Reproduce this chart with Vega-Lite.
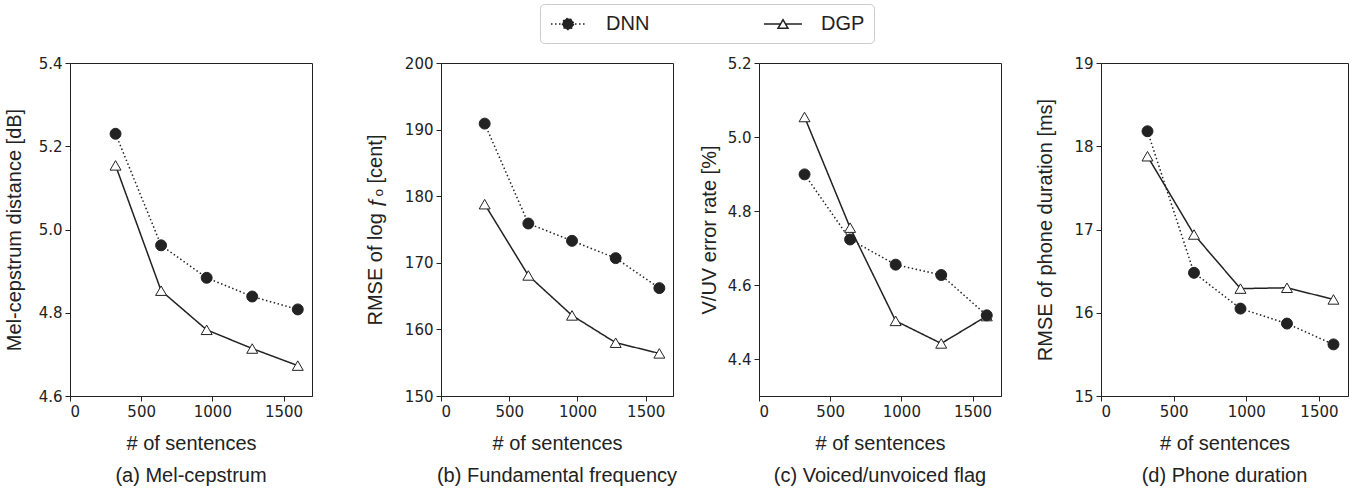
{
  "$schema": "https://vega.github.io/schema/vega-lite/v6.json",
  "padding": {"left": 3, "top": 3, "right": 0, "bottom": 0},
  "background": "#ffffff",
  "data": {"values": [
    {"panel": "a", "series": "DGP", "n": 320, "v": 5.154},
    {"panel": "a", "series": "DGP", "n": 640, "v": 4.853},
    {"panel": "a", "series": "DGP", "n": 960, "v": 4.759},
    {"panel": "a", "series": "DGP", "n": 1280, "v": 4.714},
    {"panel": "a", "series": "DGP", "n": 1600, "v": 4.673},
    {"panel": "a", "series": "DNN", "n": 320, "v": 5.230},
    {"panel": "a", "series": "DNN", "n": 640, "v": 4.962},
    {"panel": "a", "series": "DNN", "n": 960, "v": 4.884},
    {"panel": "a", "series": "DNN", "n": 1280, "v": 4.839},
    {"panel": "a", "series": "DNN", "n": 1600, "v": 4.808},
    {"panel": "b", "series": "DGP", "n": 320, "v": 178.8},
    {"panel": "b", "series": "DGP", "n": 640, "v": 168.1},
    {"panel": "b", "series": "DGP", "n": 960, "v": 162.1},
    {"panel": "b", "series": "DGP", "n": 1280, "v": 158.0},
    {"panel": "b", "series": "DGP", "n": 1600, "v": 156.4},
    {"panel": "b", "series": "DNN", "n": 320, "v": 190.9},
    {"panel": "b", "series": "DNN", "n": 640, "v": 175.9},
    {"panel": "b", "series": "DNN", "n": 960, "v": 173.3},
    {"panel": "b", "series": "DNN", "n": 1280, "v": 170.7},
    {"panel": "b", "series": "DNN", "n": 1600, "v": 166.2},
    {"panel": "c", "series": "DGP", "n": 320, "v": 5.054},
    {"panel": "c", "series": "DGP", "n": 640, "v": 4.755},
    {"panel": "c", "series": "DGP", "n": 960, "v": 4.503},
    {"panel": "c", "series": "DGP", "n": 1280, "v": 4.442},
    {"panel": "c", "series": "DGP", "n": 1600, "v": 4.516},
    {"panel": "c", "series": "DNN", "n": 320, "v": 4.899},
    {"panel": "c", "series": "DNN", "n": 640, "v": 4.723},
    {"panel": "c", "series": "DNN", "n": 960, "v": 4.655},
    {"panel": "c", "series": "DNN", "n": 1280, "v": 4.627},
    {"panel": "c", "series": "DNN", "n": 1600, "v": 4.518},
    {"panel": "d", "series": "DGP", "n": 320, "v": 17.88},
    {"panel": "d", "series": "DGP", "n": 640, "v": 16.94},
    {"panel": "d", "series": "DGP", "n": 960, "v": 16.29},
    {"panel": "d", "series": "DGP", "n": 1280, "v": 16.30},
    {"panel": "d", "series": "DGP", "n": 1600, "v": 16.16},
    {"panel": "d", "series": "DNN", "n": 320, "v": 18.18},
    {"panel": "d", "series": "DNN", "n": 640, "v": 16.48},
    {"panel": "d", "series": "DNN", "n": 960, "v": 16.05},
    {"panel": "d", "series": "DNN", "n": 1280, "v": 15.87},
    {"panel": "d", "series": "DNN", "n": 1600, "v": 15.62}
  ]},
  "spacing": 20,
  "hconcat": [
    {
      "spacing": 51,
      "hconcat": [
        {
          "width": 242, "height": 333,
          "title": {"text": "(a) Mel-cepstrum", "orient": "bottom", "offset": 13},
          "transform": [{"filter": "datum.panel == 'a'"}],
          "encoding": {
            "x": {"field": "n", "type": "quantitative", "scale": {"domain": [0, 1700], "nice": false}, "axis": {"title": "# of sentences", "values": [0, 500, 1000, 1500], "format": "d", "titlePadding": 14}},
            "y": {"field": "v", "type": "quantitative", "scale": {"domain": [4.6, 5.4], "nice": false, "zero": false}, "axis": {"title": "Mel-cepstrum distance [dB]", "values": [4.6, 4.8, 5.0, 5.2, 5.4], "format": ".1f", "titlePadding": 14}}
          },
          "layer": [
            {"mark": {"type": "line", "strokeWidth": 1.5, "color": "#222"},
             "encoding": {"strokeDash": {"field": "series", "type": "nominal", "scale": {"domain": ["DNN", "DGP"], "range": [[1.5, 2.5], [1, 0]]},
               "legend": {"title": null, "orient": "none", "legendX": 470, "legendY": -59, "direction": "horizontal", "columns": 2, "columnPadding": 111,
                 "symbolSize": 400, "symbolStrokeWidth": 1.5, "symbolStrokeColor": "#222", "labelFont": "Liberation Sans", "labelFontSize": 20, "labelColor": "#222", "labelOffset": 35,
                 "padding": 9, "strokeColor": "#cccccc", "cornerRadius": 4, "fillColor": "#ffffff",
                 "labelExpr": "datum.label == 'DGP' ? 'DGP\u00a0\u00a0\u00a0\u00a0\u00a0\u00a0' : datum.label",
                 "encode": {"symbols": {"update": {
                   "shape": {"signal": "datum.value == 'DNN' ? 'M-0.9,0H2.5M1.35,0A0.55,0.55 0 1,1 0.25,0A0.55,0.55 0 1,1 1.35,0Z' : 'M-1.1,0H0.55M1.05,0H2.7M0.8,-0.43L0.3,0.43L1.3,0.43Z'"},
                   "fill": {"signal": "datum.value == 'DNN' ? '#222222' : '#ffffff'"},
                   "stroke": {"value": "#222222"}
                 }}}}}}},
            {"mark": {"type": "point", "filled": true, "stroke": "#222", "strokeWidth": 1, "opacity": 1},
             "encoding": {
               "shape": {"field": "series", "type": "nominal", "scale": {"domain": ["DGP", "DNN"], "range": ["triangle-up", "circle"]}, "legend": null},
               "fill": {"field": "series", "type": "nominal", "scale": {"domain": ["DGP", "DNN"], "range": ["#ffffff", "#222222"]}, "legend": null},
               "size": {"value": 120}}}
          ]
        },
        {
          "width": 232, "height": 333,
          "title": {"text": "(b) Fundamental frequency", "orient": "bottom", "offset": 13},
          "transform": [{"filter": "datum.panel == 'b'"}],
          "encoding": {
            "x": {"field": "n", "type": "quantitative", "scale": {"domain": [0, 1700], "nice": false}, "axis": {"title": "# of sentences", "values": [0, 500, 1000, 1500], "format": "d", "titlePadding": 14}},
            "y": {"field": "v", "type": "quantitative", "scale": {"domain": [150, 200], "nice": false, "zero": false}, "axis": {"title": "RMSE of log  ƒₒ  [cent]", "values": [150, 160, 170, 180, 190, 200], "format": "d", "titlePadding": 19}}
          },
          "layer": [
            {"mark": {"type": "line", "strokeWidth": 1.5, "color": "#222"},
             "encoding": {"strokeDash": {"field": "series", "type": "nominal", "scale": {"domain": ["DNN", "DGP"], "range": [[1.5, 2.5], [1, 0]]},
               "legend": {"title": null, "orient": "none", "legendX": 470, "legendY": -59, "direction": "horizontal", "columns": 2, "columnPadding": 111,
                 "symbolSize": 400, "symbolStrokeWidth": 1.5, "symbolStrokeColor": "#222", "labelFont": "Liberation Sans", "labelFontSize": 20, "labelColor": "#222", "labelOffset": 35,
                 "padding": 9, "strokeColor": "#cccccc", "cornerRadius": 4, "fillColor": "#ffffff",
                 "labelExpr": "datum.label == 'DGP' ? 'DGP\u00a0\u00a0\u00a0\u00a0\u00a0\u00a0' : datum.label",
                 "encode": {"symbols": {"update": {
                   "shape": {"signal": "datum.value == 'DNN' ? 'M-0.9,0H2.5M1.35,0A0.55,0.55 0 1,1 0.25,0A0.55,0.55 0 1,1 1.35,0Z' : 'M-1.1,0H0.55M1.05,0H2.7M0.8,-0.43L0.3,0.43L1.3,0.43Z'"},
                   "fill": {"signal": "datum.value == 'DNN' ? '#222222' : '#ffffff'"},
                   "stroke": {"value": "#222222"}
                 }}}}}}},
            {"mark": {"type": "point", "filled": true, "stroke": "#222", "strokeWidth": 1, "opacity": 1},
             "encoding": {
               "shape": {"field": "series", "type": "nominal", "scale": {"domain": ["DGP", "DNN"], "range": ["triangle-up", "circle"]}, "legend": null},
               "fill": {"field": "series", "type": "nominal", "scale": {"domain": ["DGP", "DNN"], "range": ["#ffffff", "#222222"]}, "legend": null},
               "size": {"value": 120}}}
          ]
        }
      ]
    },
    {
      "spacing": 33,
      "hconcat": [
        {
          "width": 242, "height": 333,
          "title": {"text": "(c) Voiced/unvoiced flag", "orient": "bottom", "offset": 13},
          "transform": [{"filter": "datum.panel == 'c'"}],
          "encoding": {
            "x": {"field": "n", "type": "quantitative", "scale": {"domain": [0, 1700], "nice": false}, "axis": {"title": "# of sentences", "values": [0, 500, 1000, 1500], "format": "d", "titlePadding": 14}},
            "y": {"field": "v", "type": "quantitative", "scale": {"domain": [4.3, 5.2], "nice": false, "zero": false}, "axis": {"title": "V/UV error rate [%]", "values": [4.4, 4.6, 4.8, 5.0, 5.2], "format": ".1f", "titlePadding": 8}}
          },
          "layer": [
            {"mark": {"type": "line", "strokeWidth": 1.5, "color": "#222"},
             "encoding": {"strokeDash": {"field": "series", "type": "nominal", "scale": {"domain": ["DNN", "DGP"], "range": [[1.5, 2.5], [1, 0]]},
               "legend": {"title": null, "orient": "none", "legendX": 470, "legendY": -59, "direction": "horizontal", "columns": 2, "columnPadding": 111,
                 "symbolSize": 400, "symbolStrokeWidth": 1.5, "symbolStrokeColor": "#222", "labelFont": "Liberation Sans", "labelFontSize": 20, "labelColor": "#222", "labelOffset": 35,
                 "padding": 9, "strokeColor": "#cccccc", "cornerRadius": 4, "fillColor": "#ffffff",
                 "labelExpr": "datum.label == 'DGP' ? 'DGP\u00a0\u00a0\u00a0\u00a0\u00a0\u00a0' : datum.label",
                 "encode": {"symbols": {"update": {
                   "shape": {"signal": "datum.value == 'DNN' ? 'M-0.9,0H2.5M1.35,0A0.55,0.55 0 1,1 0.25,0A0.55,0.55 0 1,1 1.35,0Z' : 'M-1.1,0H0.55M1.05,0H2.7M0.8,-0.43L0.3,0.43L1.3,0.43Z'"},
                   "fill": {"signal": "datum.value == 'DNN' ? '#222222' : '#ffffff'"},
                   "stroke": {"value": "#222222"}
                 }}}}}}},
            {"mark": {"type": "point", "filled": true, "stroke": "#222", "strokeWidth": 1, "opacity": 1},
             "encoding": {
               "shape": {"field": "series", "type": "nominal", "scale": {"domain": ["DGP", "DNN"], "range": ["triangle-up", "circle"]}, "legend": null},
               "fill": {"field": "series", "type": "nominal", "scale": {"domain": ["DGP", "DNN"], "range": ["#ffffff", "#222222"]}, "legend": null},
               "size": {"value": 120}}}
          ]
        },
        {
          "width": 247, "height": 333,
          "title": {"text": "(d) Phone duration", "orient": "bottom", "offset": 13},
          "transform": [{"filter": "datum.panel == 'd'"}],
          "encoding": {
            "x": {"field": "n", "type": "quantitative", "scale": {"domain": [0, 1700], "nice": false}, "axis": {"title": "# of sentences", "values": [0, 500, 1000, 1500], "format": "d", "titlePadding": 14}},
            "y": {"field": "v", "type": "quantitative", "scale": {"domain": [15, 19], "nice": false, "zero": false}, "axis": {"title": "RMSE of phone duration [ms]", "values": [15, 16, 17, 18, 19], "format": "d", "titlePadding": 18}}
          },
          "layer": [
            {"mark": {"type": "line", "strokeWidth": 1.5, "color": "#222"},
             "encoding": {"strokeDash": {"field": "series", "type": "nominal", "scale": {"domain": ["DNN", "DGP"], "range": [[1.5, 2.5], [1, 0]]},
               "legend": {"title": null, "orient": "none", "legendX": 470, "legendY": -59, "direction": "horizontal", "columns": 2, "columnPadding": 111,
                 "symbolSize": 400, "symbolStrokeWidth": 1.5, "symbolStrokeColor": "#222", "labelFont": "Liberation Sans", "labelFontSize": 20, "labelColor": "#222", "labelOffset": 35,
                 "padding": 9, "strokeColor": "#cccccc", "cornerRadius": 4, "fillColor": "#ffffff",
                 "labelExpr": "datum.label == 'DGP' ? 'DGP\u00a0\u00a0\u00a0\u00a0\u00a0\u00a0' : datum.label",
                 "encode": {"symbols": {"update": {
                   "shape": {"signal": "datum.value == 'DNN' ? 'M-0.9,0H2.5M1.35,0A0.55,0.55 0 1,1 0.25,0A0.55,0.55 0 1,1 1.35,0Z' : 'M-1.1,0H0.55M1.05,0H2.7M0.8,-0.43L0.3,0.43L1.3,0.43Z'"},
                   "fill": {"signal": "datum.value == 'DNN' ? '#222222' : '#ffffff'"},
                   "stroke": {"value": "#222222"}
                 }}}}}}},
            {"mark": {"type": "point", "filled": true, "stroke": "#222", "strokeWidth": 1, "opacity": 1},
             "encoding": {
               "shape": {"field": "series", "type": "nominal", "scale": {"domain": ["DGP", "DNN"], "range": ["triangle-up", "circle"]}, "legend": null},
               "fill": {"field": "series", "type": "nominal", "scale": {"domain": ["DGP", "DNN"], "range": ["#ffffff", "#222222"]}, "legend": null},
               "size": {"value": 120}}}
          ]
        }
      ]
    }
  ],
  "config": {
    "view": {"stroke": "#222222", "strokeWidth": 1},
    "axis": {"grid": false, "domainColor": "#222222", "tickColor": "#222222", "tickSize": 5, "labelFont": "DejaVu Sans", "labelFontSize": 15, "labelColor": "#222222", "labelPadding": 3, "titleFont": "Liberation Sans", "titleFontSize": 20, "titleFontWeight": "normal", "titleColor": "#222222"},
    "title": {"font": "Liberation Sans", "fontSize": 20, "fontWeight": "normal", "color": "#222222"}
  }
}
